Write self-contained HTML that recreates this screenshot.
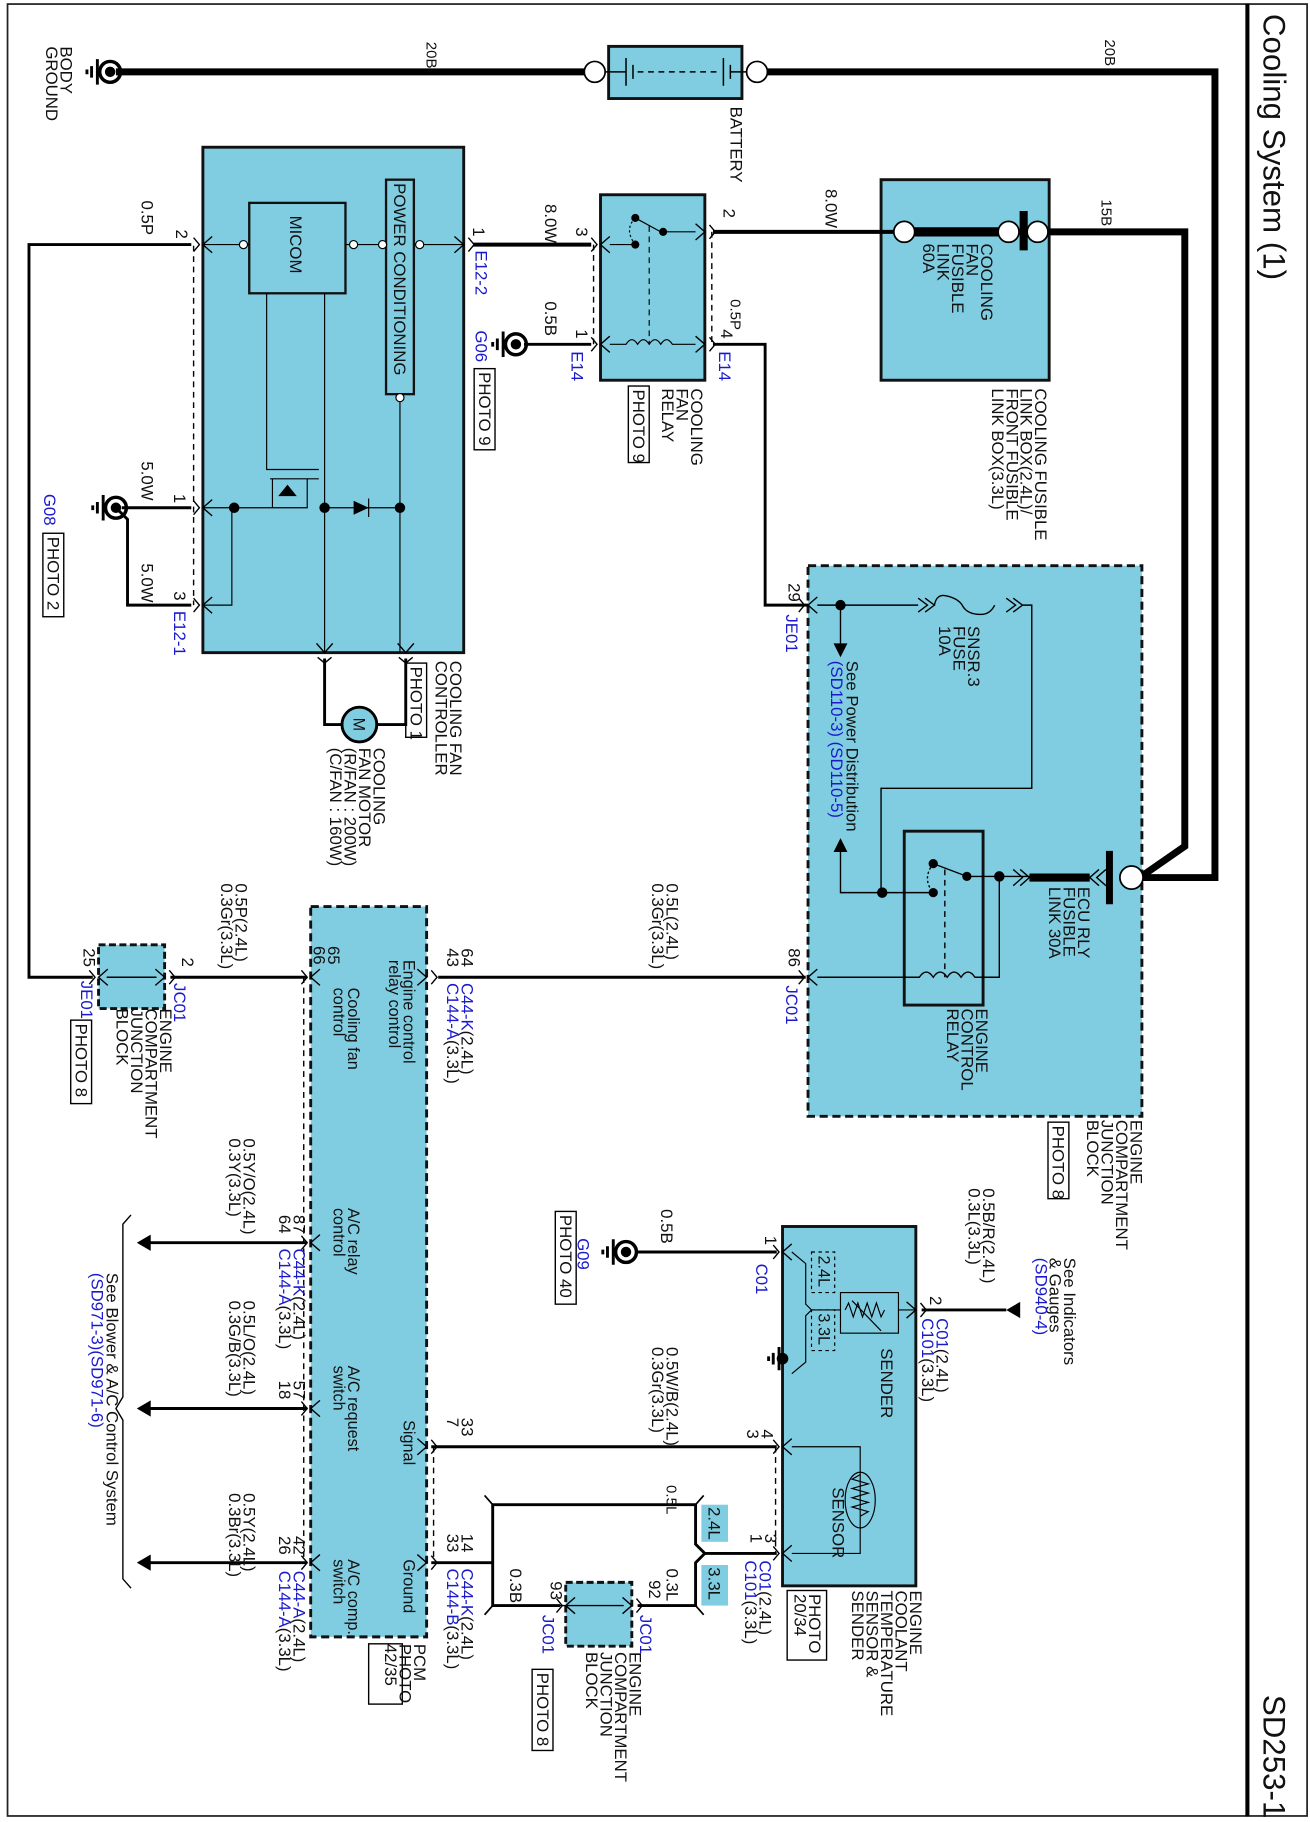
<!DOCTYPE html>
<html><head><meta charset="utf-8">
<style>
html,body{margin:0;padding:0;background:#fff;}
svg{display:block;}
text{font-family:"Liberation Sans",Arial,sans-serif;font-size:14.5px;fill:#111;}
.b{fill:#1a1acc;}
.t{font-size:27px;}
.s{font-size:14px;}
.w{font-size:13px;}
</style></head><body>
<svg width="1310" height="1822" viewBox="0 0 1130 1571.7" preserveAspectRatio="none" xmlns="http://www.w3.org/2000/svg">
<rect x="0" y="0" width="1130" height="1572" fill="#fff"/>
<rect x="6.5" y="3.5" width="1121" height="1563" fill="none" stroke="#222" stroke-width="1.5"/>
<line x1="1076" y1="3" x2="1076" y2="1567" stroke="#000" stroke-width="3.5"/>
<text class="t" transform="translate(1090,12) rotate(90)">Cooling System (1)</text>
<text class="t" transform="translate(1090,1462) rotate(90)">SD253-1</text>

<!-- boxes -->
<g fill="#80cde1" stroke="#111">
<rect x="525" y="40" width="115" height="45" stroke-width="2.5"/>
<rect x="760" y="155" width="145" height="173" stroke-width="2.5"/>
<rect x="518" y="168" width="90" height="160" stroke-width="2.5"/>
<rect x="175" y="127" width="225" height="436" stroke-width="2.5"/>
<rect x="697" y="488" width="288" height="475" stroke-width="2.5" stroke-dasharray="7,4"/>
<rect x="268" y="782" width="100" height="630" stroke-width="2.5" stroke-dasharray="7,4"/>
<rect x="85" y="815" width="57" height="55" stroke-width="2.5" stroke-dasharray="6,3"/>
<rect x="488" y="1365" width="57" height="55" stroke-width="2.5" stroke-dasharray="6,3"/>
<rect x="675" y="1058" width="115" height="310" stroke-width="2.5"/>
</g>
<g fill="none" stroke="#111" stroke-width="2">
<rect x="215" y="175" width="83" height="78"/>
<rect x="333" y="155" width="24" height="185"/>
<rect x="780" y="717" width="68" height="150" stroke-width="2.5"/>
</g>

<!-- thick wires -->
<g fill="none" stroke="#000" stroke-linejoin="miter">
<path d="M100 62 H513" stroke-width="6"/>
<path d="M660 62 H1048 V757 H980" stroke-width="6"/>
<path d="M905 200 H1022 V730 L986 755" stroke-width="6"/>
<path d="M785 200 H865" stroke-width="8"/>
<path d="M883 182 V216" stroke-width="7"/>
<path d="M888 757 H940" stroke-width="7"/>
<path d="M957 734 V780" stroke-width="6"/>
<path d="M615 200 H780" stroke-width="3.5"/>
<path d="M408 211 H510" stroke-width="3.5"/>
</g>
<g fill="none" stroke="#000" stroke-width="2.5">
<path d="M165 211 H25 V843 H80"/>
<path d="M147 843 H265"/>
<path d="M378 843 H695"/>
<path d="M510 297 H452"/>
<path d="M615 297 H660 V522 H697"/>
<path d="M165 438 H105"/>
<path d="M100 438 L110 448 V522 H165"/>
<path d="M280 568 V625 H296"/>
<path d="M350 568 V625 H325"/>
<path d="M265 1072 H128"/><path d="M265 1215 H128"/><path d="M265 1348 H128"/>
<path d="M670 1080 H550"/>
<path d="M670 1248 H372"/>
<path d="M670 1340 H608 L600 1332 V1298 H425 V1385 H483"/>
<path d="M608 1340 L600 1348 V1385 H550"/>
<path d="M425 1348 H372"/>
<path d="M795 1130 H868"/>
<path d="M425 1298 L418 1290 M425 1385 L418 1393 M600 1298 L607 1290 M600 1385 L607 1393" stroke-width="1.5"/>
</g>
<!-- triangles -->
<g fill="#000">
<polygon points="118,1072 130,1065 130,1079"/>
<polygon points="118,1215 130,1208 130,1222"/>
<polygon points="118,1348 130,1341 130,1355"/>
<polygon points="868,1130 880,1123 880,1137"/>
<polygon points="725,567 719,555 731,555"/>
<polygon points="725,723 719,735 731,735"/>
</g>
<!-- brace -->
<path d="M113 1048 L106 1056 V1205 L100 1215 L106 1225 V1362 L113 1370" fill="none" stroke="#000" stroke-width="1.2"/>

<!-- battery -->
<circle cx="513" cy="62" r="9" fill="#fff" stroke="#000" stroke-width="1.5"/>
<circle cx="653" cy="62" r="9" fill="#fff" stroke="#000" stroke-width="1.5"/>
<g stroke="#000" stroke-width="1.3" fill="none">
<path d="M522 62 H540 M540 50 V74 M546 56 V68"/>
<path d="M550 62 H620" stroke-dasharray="5,4"/>
<path d="M624 50 V74 M630 56 V68 M630 62 H644"/>
</g>
<!-- fusible circles -->
<g fill="#fff" stroke="#000" stroke-width="1.5">
<circle cx="780" cy="200" r="9"/><circle cx="870" cy="200" r="9"/><circle cx="895" cy="200" r="9"/>
<circle cx="976" cy="757" r="10"/>
</g>

<!-- ground symbols -->
<g fill="none" stroke="#000" stroke-width="3">
<circle cx="95" cy="62" r="9"/><circle cx="100" cy="438" r="9"/><circle cx="445" cy="297" r="9"/><circle cx="540" cy="1080" r="9"/>
</g>
<g fill="#000">
<circle cx="95" cy="62" r="4.5"/><circle cx="100" cy="438" r="4.5"/><circle cx="445" cy="297" r="4.5"/><circle cx="540" cy="1080" r="4.5"/>
</g>
<g stroke="#000" stroke-width="2.5">
<path d="M84 51 V73 M79 57 V67 M75 60 V64"/>
<path d="M89 427 V449 M84 433 V443 M80 436 V440"/>
<path d="M434 286 V308 M429 292 V302 M425 295 V299"/>
<path d="M529 1069 V1091 M524 1075 V1085 M520 1078 V1082"/>
<path d="M672 1162 V1182 M667 1167 V1177 M663 1170 V1174"/>
</g>

<!-- connector chevrons -->
<g fill="none" stroke="#000" stroke-width="1.2">
<path d="M183 204 L175 211 L183 218 M167 205 L172 211 L167 217"/>
<path d="M183 431 L175 438 L183 445 M167 432 L172 438 L167 444"/>
<path d="M183 515 L175 522 L183 529 M167 516 L172 522 L167 528"/>
<path d="M392 204 L400 211 L392 218 M404 205 L409 211 L404 217"/>
<path d="M526 204 L518 211 L526 218 M510 205 L515 211 L510 217"/>
<path d="M526 290 L518 297 L526 304 M510 291 L515 297 L510 303"/>
<path d="M600 193 L608 200 L600 207 M612 194 L617 200 L612 206"/>
<path d="M600 290 L608 297 L600 304 M612 291 L617 297 L612 303"/>
<path d="M273 555 L280 563 L287 555 M274 567 L280 572 L286 567"/>
<path d="M343 555 L350 563 L357 555 M344 567 L350 572 L356 567"/>
<path d="M705 515 L697 522 L705 529 M689 516 L694 522 L689 528"/>
<path d="M705 836 L697 843 L705 850 M689 837 L694 843 L689 849"/>
<path d="M276 836 L268 843 L276 850 M260 837 L265 843 L260 849"/>
<path d="M360 836 L368 843 L360 850 M372 837 L377 843 L372 849"/>
<path d="M276 1065 L268 1072 L276 1079 M260 1066 L265 1072 L260 1078"/>
<path d="M276 1208 L268 1215 L276 1222 M260 1209 L265 1215 L260 1221"/>
<path d="M276 1341 L268 1348 L276 1355 M260 1342 L265 1348 L260 1354"/>
<path d="M360 1241 L368 1248 L360 1255 M372 1242 L377 1248 L372 1254"/>
<path d="M360 1341 L368 1348 L360 1355 M372 1342 L377 1348 L372 1354"/>
<path d="M93 836 L85 843 L93 850 M77 837 L82 843 L77 849"/>
<path d="M134 836 L142 843 L134 850 M146 837 L151 843 L146 849"/>
<path d="M496 1378 L488 1385 L496 1392 M480 1379 L485 1385 L480 1391"/>
<path d="M537 1378 L545 1385 L537 1392 M549 1379 L554 1385 L549 1391"/>
<path d="M683 1073 L675 1080 L683 1087 M667 1074 L672 1080 L667 1086"/>
<path d="M683 1241 L675 1248 L683 1255 M667 1242 L672 1248 L667 1254"/>
<path d="M683 1333 L675 1340 L683 1347 M667 1334 L672 1340 L667 1346"/>
<path d="M782 1123 L790 1130 L782 1137 M794 1124 L799 1130 L794 1136"/>
<path d="M92 843 H135 M472 1385 H538"/>
</g>
<!-- dashed connector joins -->
<g stroke="#000" stroke-width="1.2" stroke-dasharray="5,4" fill="none">
<path d="M167 212 V522"/><path d="M512 211 V297"/><path d="M614 200 V297"/>
<path d="M262 843 V1348"/><path d="M374 1248 V1348"/><path d="M669 1248 V1340"/>
</g>

<!-- controller internals -->
<g fill="none" stroke="#000" stroke-width="1">
<path d="M175 211 H215 M298 211 H333 M357 211 H400"/>
<path d="M345 340 V563"/>
<path d="M230 253 V405 H275"/>
<path d="M280 253 V563"/>
<path d="M233 413 H275 M235 413 V438"/>
<path d="M175 438 H265 V413"/>
<path d="M200 438 V522 H175"/>
<path d="M280 438 H345"/>
<path d="M318 430 V446"/>
</g>
<polygon points="305,432 305,444 318,438" fill="#000"/>
<polygon points="240,428 256,428 248,418" fill="#000"/>
<g fill="#fff" stroke="#000" stroke-width="1">
<circle cx="210" cy="211" r="3.5"/><circle cx="305" cy="211" r="3.5"/><circle cx="330" cy="211" r="3.5"/><circle cx="362" cy="211" r="3.5"/><circle cx="345" cy="343" r="3.5"/>
</g>
<g fill="#000"><circle cx="202" cy="438" r="4.5"/><circle cx="280" cy="438" r="4.5"/><circle cx="345" cy="438" r="4.5"/></g>
<!-- motor -->
<circle cx="310" cy="625" r="15" fill="#80cde1" stroke="#000" stroke-width="2.5"/>
<text transform="translate(305,619) rotate(90)" class="s">M</text>

<!-- cooling fan relay internals -->
<g fill="none" stroke="#000" stroke-width="1">
<path d="M526 211 H548 M575 200 H600"/>
<path d="M548 188 L570 200"/>
<path d="M548 188 Q538 198 548 211" stroke-dasharray="2,2"/>
<path d="M560 195 V297" stroke-dasharray="5,4"/>
<path d="M526 297 H540 q5 -8 10 0 q5 -8 10 0 q5 -8 10 0 q5 -8 10 0 H600"/>
</g>
<g fill="#000"><circle cx="548" cy="188" r="3.5"/><circle cx="548" cy="211" r="3.5"/><circle cx="572" cy="200" r="3.5"/></g>

<!-- ECJB internals -->
<g fill="none" stroke="#000" stroke-width="1.2">
<path d="M705 522 H792 M798 516 L806 522 L798 528 M792 516 L800 522 L792 528"/>
<path d="M806 522 Q808 512 816 514 Q826 516 830 522 Q834 530 846 530 Q854 530 858 522"/>
<path d="M868 516 L876 522 L868 528 M874 516 L882 522 L874 528 M882 522 H890 V680 H760 V770"/>
<path d="M725 522 V558 M725 732 V770 H805"/>
<path d="M834 756 H888 M805 745 L834 756"/>
<path d="M805 745 Q795 758 805 770" stroke-dasharray="2,2"/>
<path d="M815 750 V843" stroke-dasharray="5,4"/>
<path d="M862 756 V843 H841 q-6 -9 -12 0 q-6 -9 -12 0 q-6 -9 -12 0 q-6 -9 -12 0 H705"/>
<path d="M874 750 L882 757 L874 764 M880 750 L888 757 L880 764"/>
<path d="M948 750 L940 757 L948 764 M954 750 L946 757 L954 764"/>
</g>
<g fill="#000"><circle cx="725" cy="522" r="4.5"/><circle cx="761" cy="770" r="4.5"/><circle cx="805" cy="745" r="4"/><circle cx="805" cy="770" r="4"/><circle cx="834" cy="756" r="4"/><circle cx="862" cy="756" r="4.5"/></g>

<!-- ECT internals -->
<g fill="none" stroke="#000" stroke-width="1">
<rect x="725" y="1115" width="50" height="35"/>
<path d="M775 1130 H790"/>
<path d="M683 1080 L695 1090 V1125 L700 1130 H725 M700 1130 L695 1135 V1175 L683 1185"/>
<path d="M735 1122 L760 1148"/>
<path d="M729 1130 l3 -6 l4 12 l4 -12 l4 12 l4 -12 l4 12 l4 -12 l4 12 l3 -6"/>
<path d="M683 1248 H742 V1340 H683"/>
<ellipse cx="742" cy="1294" rx="13" ry="24"/>
<path d="M742 1272 l-7 4 l14 4 l-14 4 l14 4 l-14 4 l14 4 l-14 4 l14 4 l-7 4"/>
<rect x="700" y="1080" width="20" height="35" stroke-dasharray="3,3"/>
<rect x="700" y="1130" width="20" height="35" stroke-dasharray="3,3"/>
</g>
<circle cx="675" cy="1172" r="5" fill="#000"/>
<rect x="605" y="1298" width="23" height="32" fill="#80cde1"/>
<rect x="605" y="1350" width="23" height="35" fill="#80cde1"/>

<!-- boxed photo labels -->
<g fill="none" stroke="#000" stroke-width="1.2">
<rect x="409" y="318" width="18" height="70"/>
<rect x="542" y="333" width="18" height="66"/>
<rect x="37" y="460" width="18" height="72"/>
<rect x="350" y="572" width="18" height="64"/>
<rect x="904" y="968" width="18" height="66"/>
<rect x="61" y="880" width="18" height="72"/>
<rect x="318" y="1418" width="29" height="52"/>
<rect x="479" y="1045" width="18" height="80"/>
<rect x="459" y="1440" width="18" height="70"/>
<rect x="679" y="1372" width="34" height="60"/>
</g>

<!-- texts -->
<g>
<text transform="translate(52,40) rotate(90)"><tspan x="0">BODY</tspan><tspan x="0" dy="12.5">GROUND</tspan></text>
<text class="w" transform="translate(368,36) rotate(90)">20B</text>
<text class="w" transform="translate(953,34) rotate(90)">20B</text>
<text transform="translate(630,92) rotate(90)">BATTERY</text>
<text transform="translate(712,163) rotate(90)">8.0W</text>
<text class="w" transform="translate(950,172) rotate(90)">15B</text>
<text transform="translate(846,210) rotate(90)"><tspan x="0">COOLING</tspan><tspan x="0" dy="12.5">FAN</tspan><tspan x="0" dy="12.5">FUSIBLE</tspan><tspan x="0" dy="12.5">LINK</tspan><tspan x="0" dy="12.5">60A</tspan></text>
<text transform="translate(893,335) rotate(90)"><tspan x="0">COOLING FUSIBLE</tspan><tspan x="0" dy="12.5">LINK BOX(2.4L)/</tspan><tspan x="0" dy="12.5">FRONT FUSIBLE</tspan><tspan x="0" dy="12.5">LINK BOX(3.3L)</tspan></text>
<text transform="translate(624,180) rotate(90)">2</text>
<text class="w" transform="translate(630,258) rotate(90)">0.5P</text>
<text transform="translate(622,284) rotate(90)">4</text>
<text class="b" transform="translate(620,303) rotate(90)">E14</text>
<text transform="translate(470,176) rotate(90)">8.0W</text>
<text transform="translate(497,196) rotate(90)">3</text>
<text transform="translate(470,260) rotate(90)">0.5B</text>
<text transform="translate(497,284) rotate(90)">1</text>
<text class="b" transform="translate(493,303) rotate(90)">E14</text>
<text transform="translate(408,196) rotate(90)">1</text>
<text class="b" transform="translate(410,216) rotate(90)">E12-2</text>
<text transform="translate(596,335) rotate(90)"><tspan x="0">COOLING</tspan><tspan x="0" dy="12.5">FAN</tspan><tspan x="0" dy="12.5">RELAY</tspan></text>
<text transform="translate(546,336) rotate(90)">PHOTO 9</text>
<text class="b" transform="translate(410,285) rotate(90)">G06</text>
<text transform="translate(413,321) rotate(90)">PHOTO 9</text>
<text transform="translate(122,173) rotate(90)">0.5P</text>
<text transform="translate(152,198) rotate(90)">2</text>
<text transform="translate(122,398) rotate(90)">5.0W</text>
<text transform="translate(150,426) rotate(90)">1</text>
<text transform="translate(122,486) rotate(90)">5.0W</text>
<text transform="translate(150,510) rotate(90)">3</text>
<text class="b" transform="translate(150,527) rotate(90)">E12-1</text>
<text class="b" transform="translate(38,426) rotate(90)">G08</text>
<text transform="translate(41,463) rotate(90)">PHOTO 2</text>
<text transform="translate(250,186) rotate(90)">MICOM</text>
<text transform="translate(340,158) rotate(90)">POWER CONDITIONING</text>
<text transform="translate(388,570) rotate(90)"><tspan x="0">COOLING FAN</tspan><tspan x="0" dy="12.5">CONTROLLER</tspan></text>
<text transform="translate(354,575) rotate(90)">PHOTO 1</text>
<text transform="translate(322,645) rotate(90)"><tspan x="0">COOLING</tspan><tspan x="0" dy="12.5">FAN MOTOR</tspan><tspan x="0" dy="12.5">(R/FAN : 200W)</tspan><tspan x="0" dy="12.5">(C/FAN : 160W)</tspan></text>
<text transform="translate(835,540) rotate(90)"><tspan x="0">SNSR.3</tspan><tspan x="0" dy="12.5">FUSE</tspan><tspan x="0" dy="12.5">10A</tspan></text>
<text transform="translate(730,570) rotate(90)"><tspan x="0">See Power Distribution</tspan><tspan x="0" dy="13" class="b">(SD110-3) (SD110-5)</tspan></text>
<text transform="translate(930,765) rotate(90)"><tspan x="0">ECU RLY</tspan><tspan x="0" dy="12.5">FUSIBLE</tspan><tspan x="0" dy="12.5">LINK 30A</tspan></text>
<text transform="translate(842,870) rotate(90)"><tspan x="0">ENGINE</tspan><tspan x="0" dy="12.5">CONTROL</tspan><tspan x="0" dy="12.5">RELAY</tspan></text>
<text transform="translate(680,503) rotate(90)">29</text>
<text class="b" transform="translate(678,530) rotate(90)">JE01</text>
<text transform="translate(680,818) rotate(90)">86</text>
<text class="b" transform="translate(678,850) rotate(90)">JC01</text>
<text transform="translate(975,966) rotate(90)"><tspan x="0">ENGINE</tspan><tspan x="0" dy="12.5">COMPARTMENT</tspan><tspan x="0" dy="12.5">JUNCTION</tspan><tspan x="0" dy="12.5">BLOCK</tspan></text>
<text transform="translate(908,971) rotate(90)">PHOTO 8</text>
<text transform="translate(575,762) rotate(90)"><tspan x="0">0.5L(2.4L)</tspan><tspan x="0" dy="12.5">0.3Gr(3.3L)</tspan></text>
<text transform="translate(398,818) rotate(90)"><tspan x="0">64</tspan><tspan x="0" dy="12.5">43</tspan></text>
<text transform="translate(398,848) rotate(90)"><tspan x="0"><tspan class="b">C44-K</tspan>(2.4L)</tspan><tspan x="0" dy="12.5"><tspan class="b">C144-A</tspan>(3.3L)</tspan></text>
<text class="s" transform="translate(348,828) rotate(90)"><tspan x="0">Engine control</tspan><tspan x="0" dy="12.5">relay control</tspan></text>
<text class="s" transform="translate(300,852) rotate(90)"><tspan x="0">Cooling fan</tspan><tspan x="0" dy="12.5">control</tspan></text>
<text transform="translate(283,816) rotate(90)"><tspan x="0">65</tspan><tspan x="0" dy="12.5">66</tspan></text>
<text transform="translate(203,762) rotate(90)"><tspan x="0">0.5P(2.4L)</tspan><tspan x="0" dy="12.5">0.3Gr(3.3L)</tspan></text>
<text transform="translate(157,826) rotate(90)">2</text>
<text class="b" transform="translate(150,848) rotate(90)">JC01</text>
<text transform="translate(72,818) rotate(90)">25</text>
<text class="b" transform="translate(70,846) rotate(90)">JE01</text>
<text transform="translate(65,883) rotate(90)">PHOTO 8</text>
<text transform="translate(138,870) rotate(90)"><tspan x="0">ENGINE</tspan><tspan x="0" dy="12.5">COMPARTMENT</tspan><tspan x="0" dy="12.5">JUNCTION</tspan><tspan x="0" dy="12.5">BLOCK</tspan></text>
<text transform="translate(210,982) rotate(90)"><tspan x="0">0.5Y/O(2.4L)</tspan><tspan x="0" dy="12.5">0.3Y(3.3L)</tspan></text>
<text transform="translate(253,1048) rotate(90)"><tspan x="0">87</tspan><tspan x="0" dy="12.5">64</tspan></text>
<text transform="translate(253,1077) rotate(90)"><tspan x="0"><tspan class="b">C44-K</tspan>(2.4L)</tspan><tspan x="0" dy="12.5"><tspan class="b">C144-A</tspan>(3.3L)</tspan></text>
<text class="s" transform="translate(300,1042) rotate(90)"><tspan x="0">A/C relay</tspan><tspan x="0" dy="12.5">control</tspan></text>
<text transform="translate(210,1122) rotate(90)"><tspan x="0">0.5L/O(2.4L)</tspan><tspan x="0" dy="12.5">0.3G/B(3.3L)</tspan></text>
<text transform="translate(253,1191) rotate(90)"><tspan x="0">57</tspan><tspan x="0" dy="12.5">18</tspan></text>
<text class="s" transform="translate(300,1178) rotate(90)"><tspan x="0">A/C request</tspan><tspan x="0" dy="12.5">switch</tspan></text>
<text transform="translate(210,1288) rotate(90)"><tspan x="0">0.5Y(2.4L)</tspan><tspan x="0" dy="12.5">0.3Br(3.3L)</tspan></text>
<text transform="translate(253,1325) rotate(90)"><tspan x="0">42</tspan><tspan x="0" dy="12.5">26</tspan></text>
<text transform="translate(253,1355) rotate(90)"><tspan x="0"><tspan class="b">C44-A</tspan>(2.4L)</tspan><tspan x="0" dy="12.5"><tspan class="b">C144-A</tspan>(3.3L)</tspan></text>
<text class="s" transform="translate(300,1345) rotate(90)"><tspan x="0">A/C comp.</tspan><tspan x="0" dy="12.5">switch</tspan></text>
<text class="s" transform="translate(348,1225) rotate(90)">Signal</text>
<text class="s" transform="translate(348,1345) rotate(90)">Ground</text>
<text transform="translate(398,1223) rotate(90)"><tspan x="0">33</tspan><tspan x="0" dy="12.5">7</tspan></text>
<text transform="translate(398,1323) rotate(90)"><tspan x="0">14</tspan><tspan x="0" dy="12.5">33</tspan></text>
<text transform="translate(398,1353) rotate(90)"><tspan x="0"><tspan class="b">C44-K</tspan>(2.4L)</tspan><tspan x="0" dy="12.5"><tspan class="b">C144-B</tspan>(3.3L)</tspan></text>
<text transform="translate(357,1418) rotate(90)"><tspan x="0">PCM</tspan><tspan x="0" dy="12.5">PHOTO</tspan><tspan x="0" dy="12.5">42/35</tspan></text>
<text transform="translate(92,1098) rotate(90)"><tspan x="0">See Blower &amp; A/C Control System</tspan><tspan x="0" dy="13" class="b">(SD971-3)(SD971-6)</tspan></text>
<text transform="translate(918,1085) rotate(90)"><tspan x="0">See Indicators</tspan><tspan x="0" dy="12.5">&amp; Gauges</tspan><tspan x="0" dy="12.5" class="b">(SD940-4)</tspan></text>
<text transform="translate(848,1025) rotate(90)"><tspan x="0">0.5B/R(2.4L)</tspan><tspan x="0" dy="12.5">0.3L(3.3L)</tspan></text>
<text transform="translate(802,1118) rotate(90)">2</text>
<text transform="translate(808,1137) rotate(90)"><tspan x="0"><tspan class="b">C01</tspan>(2.4L)</tspan><tspan x="0" dy="12.5"><tspan class="b">C101</tspan>(3.3L)</tspan></text>
<text transform="translate(660,1066) rotate(90)">1</text>
<text class="b" transform="translate(652,1090) rotate(90)">C01</text>
<text transform="translate(570,1043) rotate(90)">0.5B</text>
<text class="b" transform="translate(498,1068) rotate(90)">G09</text>
<text transform="translate(483,1048) rotate(90)">PHOTO 40</text>
<text transform="translate(760,1163) rotate(90)">SENDER</text>
<text class="s" transform="translate(706,1083) rotate(90)">2.4L</text>
<text class="s" transform="translate(706,1133) rotate(90)">3.3L</text>
<text transform="translate(575,1162) rotate(90)"><tspan x="0">0.5W/B(2.4L)</tspan><tspan x="0" dy="12.5">0.3Gr(3.3L)</tspan></text>
<text transform="translate(657,1233) rotate(90)"><tspan x="0">4</tspan><tspan x="0" dy="12.5">3</tspan></text>
<text transform="translate(718,1283) rotate(90)">SENSOR</text>
<text class="w" transform="translate(575,1281) rotate(90)">0.5L</text>
<text transform="translate(611,1300) rotate(90)">2.4L</text>
<text transform="translate(611,1352) rotate(90)">3.3L</text>
<text transform="translate(660,1323) rotate(90)"><tspan x="0">3</tspan><tspan x="0" dy="12.5">1</tspan></text>
<text transform="translate(655,1346) rotate(90)"><tspan x="0"><tspan class="b">C01</tspan>(2.4L)</tspan><tspan x="0" dy="12.5"><tspan class="b">C101</tspan>(3.3L)</tspan></text>
<text transform="translate(575,1353) rotate(90)">0.3L</text>
<text transform="translate(560,1363) rotate(90)">92</text>
<text class="b" transform="translate(552,1393) rotate(90)">JC01</text>
<text transform="translate(440,1353) rotate(90)">0.3B</text>
<text transform="translate(475,1364) rotate(90)">93</text>
<text class="b" transform="translate(468,1393) rotate(90)">JC01</text>
<text transform="translate(463,1443) rotate(90)">PHOTO 8</text>
<text transform="translate(543,1425) rotate(90)"><tspan x="0">ENGINE</tspan><tspan x="0" dy="12.5">COMPARTMENT</tspan><tspan x="0" dy="12.5">JUNCTION</tspan><tspan x="0" dy="12.5">BLOCK</tspan></text>
<text transform="translate(785,1372) rotate(90)"><tspan x="0">ENGINE</tspan><tspan x="0" dy="12.5">COOLANT</tspan><tspan x="0" dy="12.5">TEMPERATURE</tspan><tspan x="0" dy="12.5">SENSOR &amp;</tspan><tspan x="0" dy="12.5">SENDER</tspan></text>
<text transform="translate(698,1375) rotate(90)"><tspan x="0">PHOTO</tspan><tspan x="0" dy="12.5">20/34</tspan></text>
</g>
</svg>
</body></html>
